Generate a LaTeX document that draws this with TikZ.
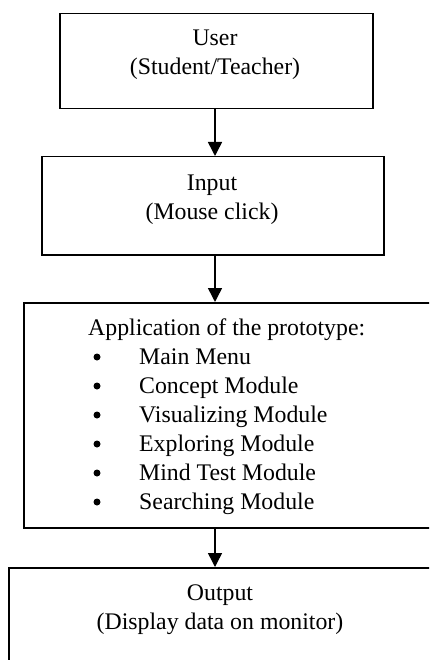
\documentclass[tikz,border=0pt]{standalone}
\usepackage{fontspec}
\setmainfont{Liberation Serif}
\usetikzlibrary{arrows.meta}
\tikzset{
  box/.style={draw=black, line width=1.5pt, fill=none, inner sep=0pt, anchor=north west},
  txt/.style={inner sep=0pt, anchor=base, font=\fontsize{23.8}{29}\selectfont},
  ltxt/.style={txt, anchor=base west},
  bullet/.style={circle, fill=black, inner sep=0pt, minimum size=7pt},
  conn/.style={line width=1.5pt, -{Triangle[width=14pt,length=14pt]}}
}
\begin{document}
\begin{tikzpicture}[x=1pt,y=-1pt]
\useasboundingbox (0,0) rectangle (429,660);
\clip (0,0) rectangle (429,660);
\fill[white] (0,0) rectangle (429,660);
% boxes
\node[box, minimum width=313pt, minimum height=95pt] (b1) at (59,13) {};
\node[box, minimum width=342pt, minimum height=98pt] (b2) at (41,156) {};
\node[box, minimum width=408pt, minimum height=225pt] (b3) at (23,302) {};
\node[box, minimum width=424pt, minimum height=110pt] (b4) at (8,567) {};
% texts
\node[txt] (t1a) at (215,46) {User};
\node[txt] (t1b) at (215,75) {(Student/Teacher)};
\node[txt] (t2a) at (212,190) {Input};
\node[txt] (t2b) at (212,219) {(Mouse click)};
\node[ltxt] (t3) at (88,335) {Application of the prototype:};
\foreach \y/\lab [count=\i] in {364/Main Menu,393/Concept Module,422/Visualizing Module,451/Exploring Module,480/Mind Test Module,509/Searching Module}{
  \node[bullet] (bul\i) at (97,\y-7) {};
  \node[ltxt] (it\i) at (139,\y) {\lab};
}
\node[txt] (t4a) at (220,600) {Output};
\node[txt] (t4b) at (220,629) {(Display data on monitor)};
% connectors
\coordinate (c1) at (215,0);
\draw[conn] (b1.south -| c1) -- (b2.north -| c1);
\draw[conn] (b2.south -| c1) -- (b3.north -| c1);
\draw[conn] (b3.south -| c1) -- (b4.north -| c1);
\end{tikzpicture}
\end{document}
